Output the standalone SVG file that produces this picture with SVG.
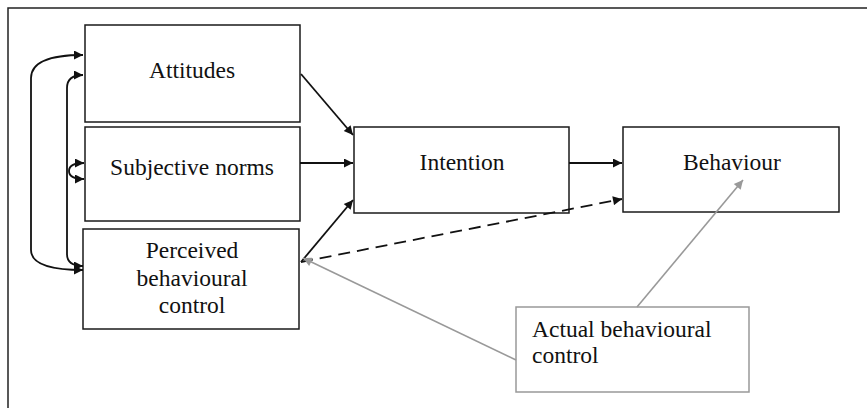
<svg xmlns="http://www.w3.org/2000/svg" width="867" height="408" viewBox="0 0 867 408">
<style>
.box{fill:#fff;stroke:#1a1a1a;stroke-width:1.5}
.gbox{fill:#fff;stroke:#999;stroke-width:1.5}
.e{fill:none;stroke:#111;stroke-width:1.8}
.g{fill:none;stroke:#999;stroke-width:1.6}
</style>
<defs>
<marker id="ah" viewBox="0 0 10 10" refX="10" refY="5" markerWidth="11" markerHeight="9" markerUnits="userSpaceOnUse" orient="auto-start-reverse"><path d="M0 0L10 5L0 10z" fill="#111"/></marker>
<marker id="gh" viewBox="0 0 10 10" refX="10" refY="5" markerWidth="11" markerHeight="9" markerUnits="userSpaceOnUse" orient="auto-start-reverse"><path d="M0 0L10 5L0 10z" fill="#999"/></marker>
</defs>
<rect width="867" height="408" fill="#fff"/>
<path d="M8 409V8H868" fill="none" stroke="#222" stroke-width="1.5"/>
<g id="attitudes"><rect class="box" x="85" y="25" width="215" height="97"/><text font-family="Liberation Serif" font-size="23.5" fill="#111" text-anchor="middle" x="192" y="78">Attitudes</text></g>
<g id="subjective-norms"><rect class="box" x="85" y="127" width="215" height="94"/><text font-family="Liberation Serif" font-size="23.5" fill="#111" text-anchor="middle" x="192" y="175">Subjective norms</text></g>
<g id="pbc"><rect class="box" x="83" y="229" width="216" height="100"/><text font-family="Liberation Serif" font-size="23.5" fill="#111" text-anchor="middle" x="192" y="258">Perceived</text><text font-family="Liberation Serif" font-size="23.5" fill="#111" text-anchor="middle" x="192" y="286">behavioural</text><text font-family="Liberation Serif" font-size="23.5" fill="#111" text-anchor="middle" x="192" y="313">control</text></g>
<g id="intention"><rect class="box" x="354" y="127" width="215" height="86"/><text font-family="Liberation Serif" font-size="23.5" fill="#111" text-anchor="middle" x="462" y="170">Intention</text></g>
<g id="behaviour"><rect class="box" x="623" y="127" width="216" height="85"/><text font-family="Liberation Serif" font-size="23.5" fill="#111" text-anchor="middle" x="732" y="170">Behaviour</text></g>
<g id="abc"><rect class="gbox" x="516" y="307" width="233" height="85"/><text font-family="Liberation Serif" font-size="23.5" fill="#111" x="532" y="337">Actual behavioural</text><text font-family="Liberation Serif" font-size="23.5" fill="#111" x="532" y="363">control</text></g>
<g id="connectors">
<path class="e" d="M83 55Q31 55 31 78V250Q31 270 83 270" marker-start="url(#ah)" marker-end="url(#ah)"/>
<path class="e" d="M83 75Q67 75 67 88V254Q67 266 83 266" marker-start="url(#ah)" marker-end="url(#ah)"/>
<path class="e" d="M84 163Q69 163 69 171Q69 179 84 179" marker-start="url(#ah)" marker-end="url(#ah)"/>
<path class="e" d="M301 74L353 135" marker-end="url(#ah)"/>
<path class="e" d="M300 163H353" marker-end="url(#ah)"/>
<path class="e" d="M301 262L353 200" marker-end="url(#ah)"/>
<path class="e" d="M569 163H622" marker-end="url(#ah)"/>
<path class="e" d="M301 262L622 199" stroke-dasharray="12 7" marker-end="url(#ah)"/>
<path class="g" d="M516 360L303 258" marker-end="url(#gh)"/>
<path class="g" d="M637 307L743 180" marker-end="url(#gh)"/>
</g>
</svg>
